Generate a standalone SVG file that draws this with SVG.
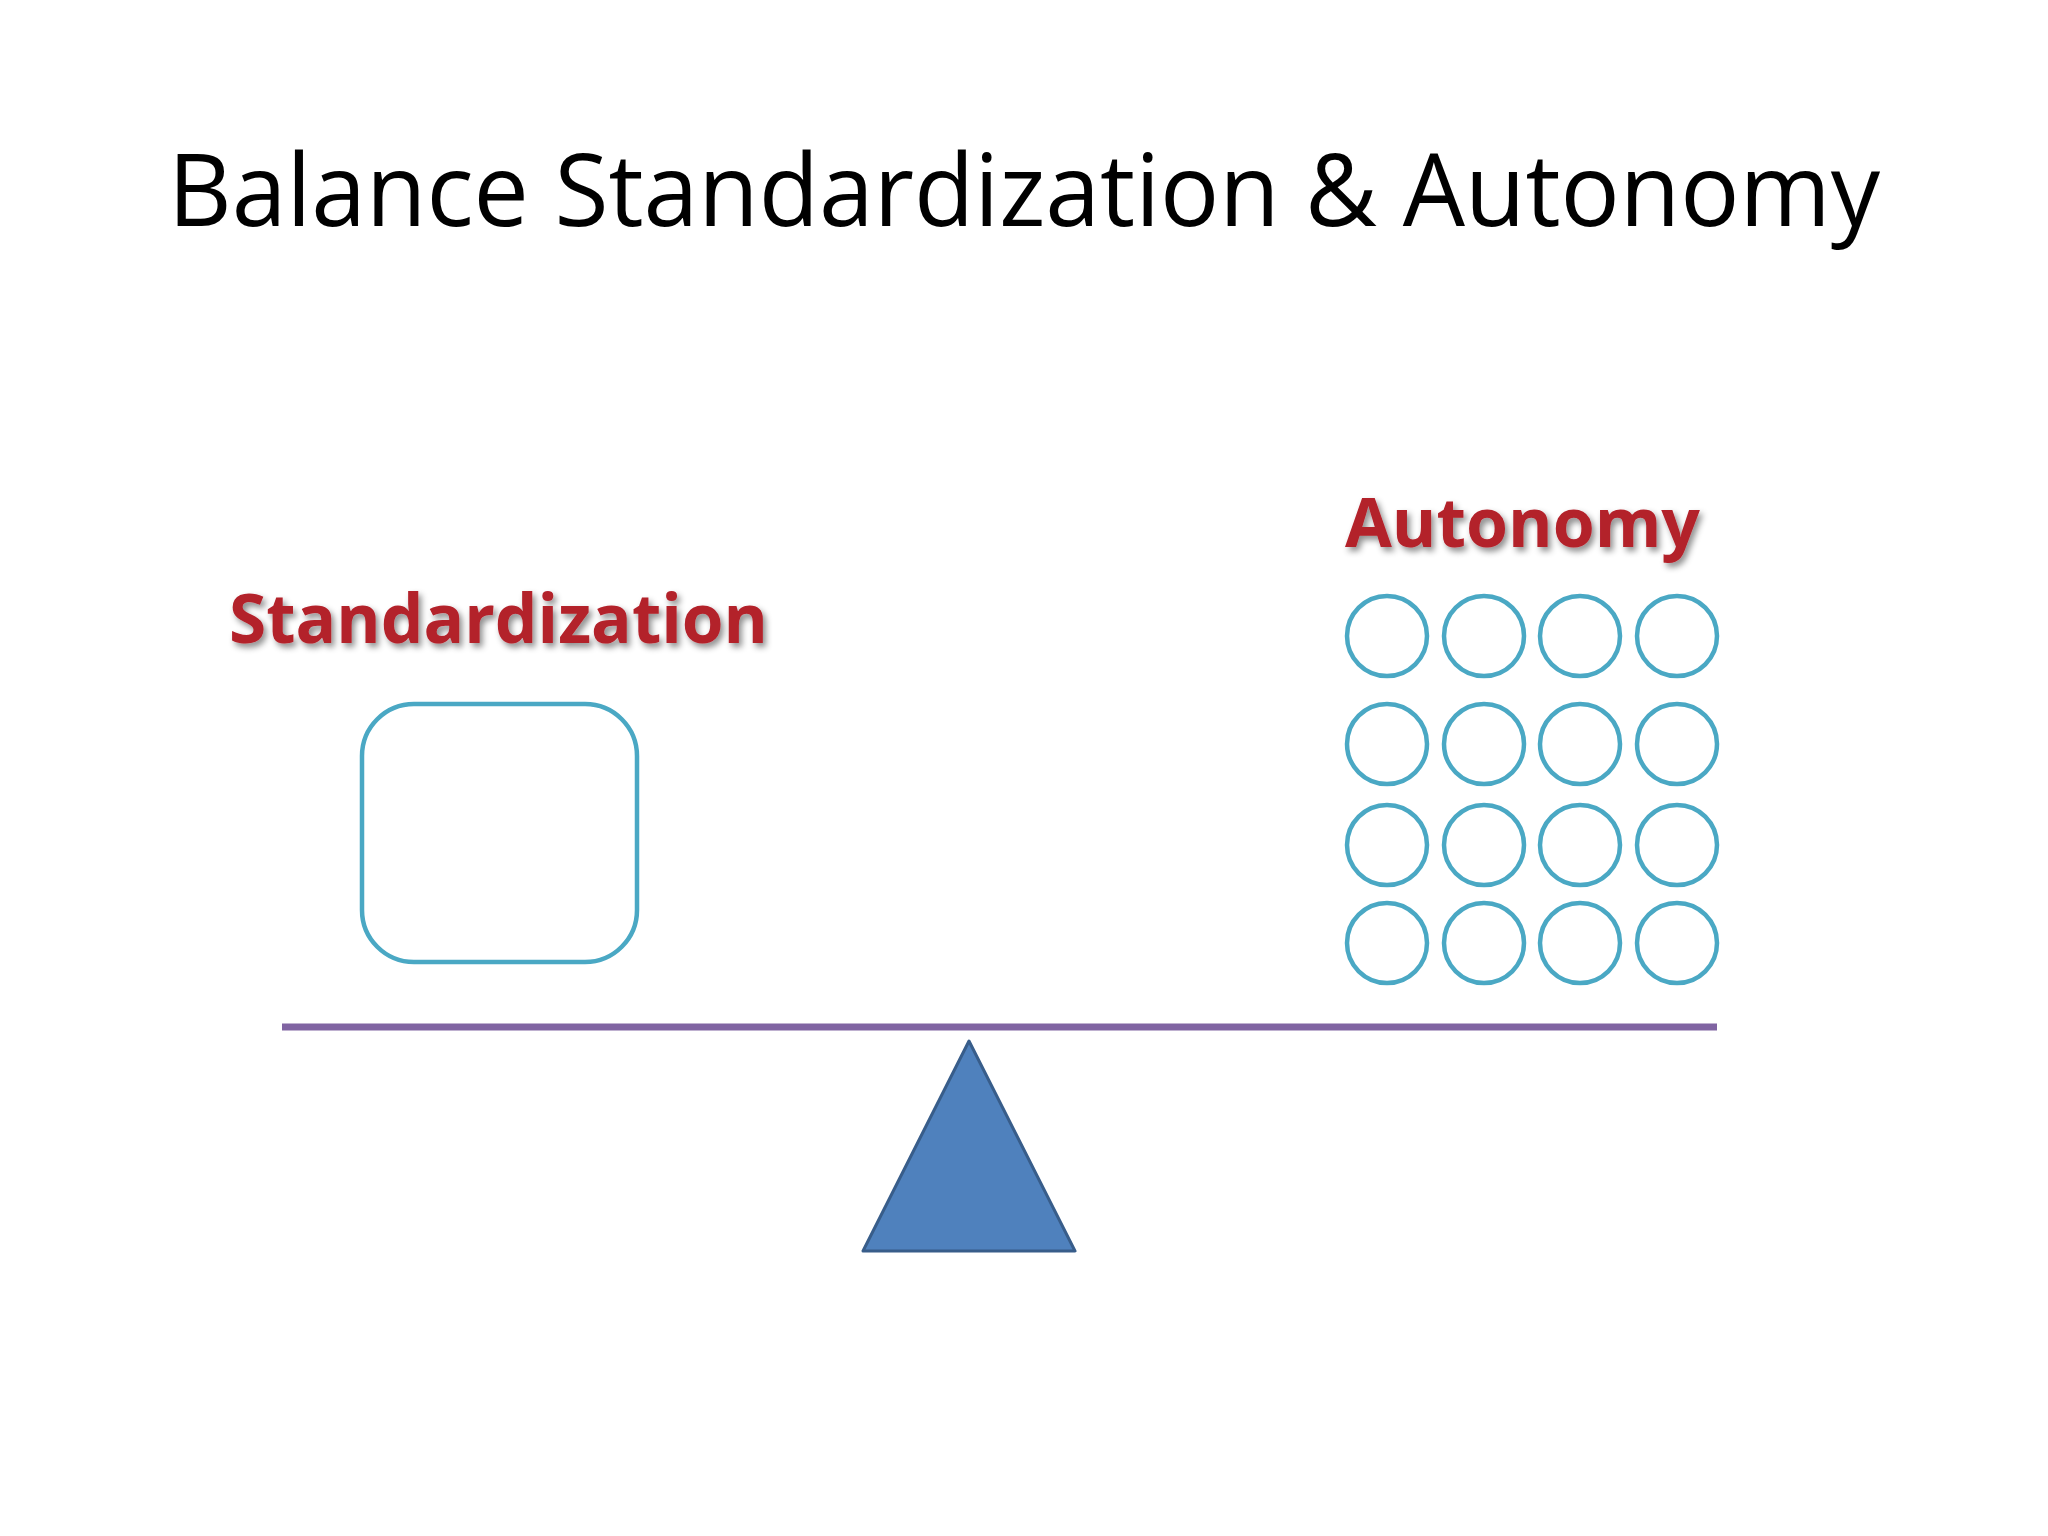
<svg xmlns="http://www.w3.org/2000/svg" width="2048" height="1536" viewBox="0 0 2048 1536">
<defs>
<filter id="sh" x="-10%" y="-30%" width="120%" height="160%"><feDropShadow dx="3" dy="4" stdDeviation="3" flood-color="#000" flood-opacity="0.45"/></filter>
<style>
.lbl{font-family:"Open Sans","DejaVu Sans",sans-serif;font-weight:bold;fill:#b3202a;font-size:68px;filter:url(#sh)}
.c{fill:none;stroke:#4aa8c4;stroke-width:4.5}
</style>
</defs>
<rect width="2048" height="1536" fill="#fff"/>
<text x="1024" y="226" text-anchor="middle" font-family="'Open Sans','Liberation Sans',sans-serif" font-size="100" fill="#000" textLength="1712" lengthAdjust="spacingAndGlyphs">Balance Standardization &amp; Autonomy</text>
<g id="standardization">
<text class="lbl" x="229" y="643" textLength="539" lengthAdjust="spacingAndGlyphs">Standardization</text>
<rect x="362" y="704" width="275" height="258" rx="52" class="c"/>
</g>
<g id="autonomy">
<text class="lbl" x="1345" y="547" textLength="355" lengthAdjust="spacingAndGlyphs">Autonomy</text>
<g class="c">
<circle cx="1387" cy="636" r="40"/><circle cx="1484" cy="636" r="40"/><circle cx="1580" cy="636" r="40"/><circle cx="1677" cy="636" r="40"/>
<circle cx="1387" cy="744" r="40"/><circle cx="1484" cy="744" r="40"/><circle cx="1580" cy="744" r="40"/><circle cx="1677" cy="744" r="40"/>
<circle cx="1387" cy="845" r="40"/><circle cx="1484" cy="845" r="40"/><circle cx="1580" cy="845" r="40"/><circle cx="1677" cy="845" r="40"/>
<circle cx="1387" cy="943" r="40"/><circle cx="1484" cy="943" r="40"/><circle cx="1580" cy="943" r="40"/><circle cx="1677" cy="943" r="40"/>
</g>
</g>
<g id="connectors">
<line x1="282" y1="1027" x2="1717" y2="1027" stroke="#8064a2" stroke-width="7"/>
</g>
<g id="fulcrum">
<polygon points="969,1041 1075,1251 863,1251" fill="#4f81bd" stroke="#385d8a" stroke-width="3" stroke-linejoin="round"/>
</g>
</svg>
